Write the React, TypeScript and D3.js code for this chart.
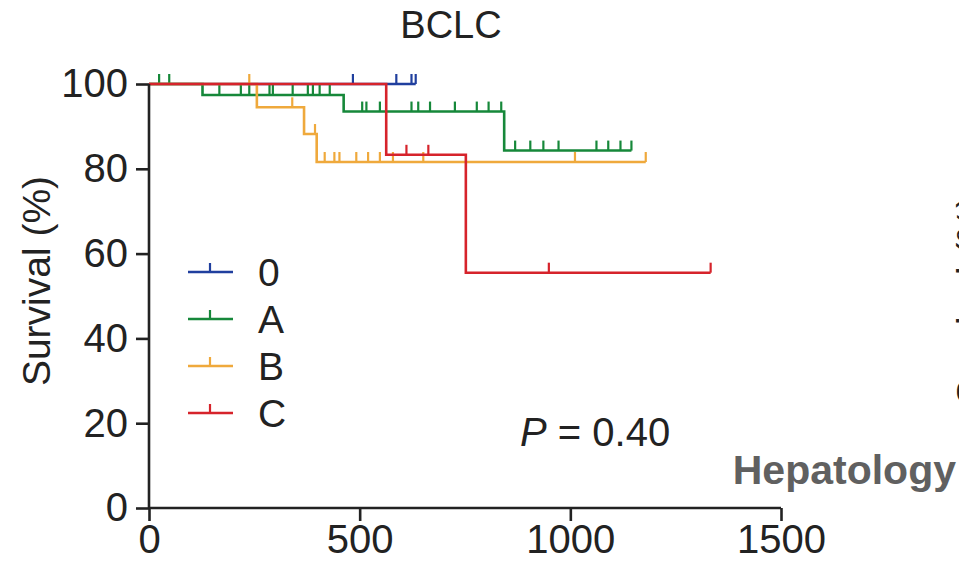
import React, { useEffect, useRef } from 'react';
import * as d3 from 'd3';

// groups (BCLC stage)
const groups = ['0', 'A', 'B', 'C'];
const colors = ['#203f9e', '#16883a', '#efa93c', '#d6232b'];

// days at which survival steps down, and survival (%) after each step
const dropDays0: number[] = [];
const dropSurv0: number[] = [];
const dropDaysA = [127, 462, 843];
const dropSurvA = [97.4, 93.5, 84.3];
const dropDaysB = [256, 368, 398];
const dropSurvB = [94.5, 88.2, 81.6];
const dropDaysC = [563, 752];
const dropSurvC = [83.3, 55.5];

// censored patients (days)
const censor0 = [484, 587, 623, 633];
const censorA = [24, 48, 167, 218, 238, 286, 294, 341, 377, 389, 405, 429, 506, 516, 548, 623, 639, 667, 726, 778, 806, 836, 869, 905, 936, 972, 1062, 1090, 1119, 1145];
const censorB = [238, 340, 394, 417, 440, 452, 492, 520, 548, 579, 651, 1011, 1179];
const censorC = [611, 663, 949, 1333];

// last follow-up per group
const lastDay = [633, 1145, 1179, 1333];

const xTicks = [0, 500, 1000, 1500];
const yTicks = [0, 20, 40, 60, 80, 100];

const FONT = '"Liberation Sans", Arial, Helvetica, sans-serif';

const App = () => {
  const ref = useRef<SVGSVGElement>(null);

  useEffect(() => {
    const svg = d3.select(ref.current);
    svg.selectAll('*').remove();

    const x = d3.scaleLinear().domain([0, 1500]).range([149, 781]);
    const y = d3.scaleLinear().domain([0, 100]).range([508, 84]);

    const drops = [dropDays0, dropDaysA, dropDaysB, dropDaysC];
    const survs = [dropSurv0, dropSurvA, dropSurvB, dropSurvC];
    const censors = [censor0, censorA, censorB, censorC];

    const survAt = (g: number, t: number) => {
      let s = 100;
      drops[g].forEach((d, i) => {
        if (d <= t) s = survs[g][i];
      });
      return s;
    };

    const line = d3
      .line<[number, number]>()
      .x((d) => x(d[0]))
      .y((d) => y(d[1]))
      .curve(d3.curveStepAfter);

    // curves
    groups.forEach((g, gi) => {
      const pts: [number, number][] = [[0, 100]];
      drops[gi].forEach((d, i) => pts.push([d, survs[gi][i]]));
      pts.push([lastDay[gi], survAt(gi, lastDay[gi])]);
      svg
        .append('path')
        .datum(pts)
        .attr('d', line)
        .attr('fill', 'none')
        .attr('stroke', colors[gi])
        .attr('stroke-width', 2.6);

      svg
        .append('g')
        .selectAll('line')
        .data(censors[gi])
        .join('line')
        .attr('x1', (d) => x(d))
        .attr('x2', (d) => x(d))
        .attr('y1', (d) => y(survAt(gi, d)))
        .attr('y2', (d) => y(survAt(gi, d)) - 10)
        .attr('stroke', colors[gi])
        .attr('stroke-width', 2.2);
    });

    // axes
    const axisColor = '#222';
    const xAxis = svg
      .append('g')
      .attr('transform', `translate(0,${y(0)})`)
      .call(
        d3.axisBottom(x).tickValues(xTicks).tickFormat(d3.format('d')).tickSize(13).tickPadding(4)
      );
    const yAxis = svg
      .append('g')
      .attr('transform', `translate(${x(0)},0)`)
      .call(d3.axisLeft(y).tickValues(yTicks).tickSize(13).tickPadding(8));
    [xAxis, yAxis].forEach((a) => {
      a.select('.domain').attr('stroke', axisColor).attr('stroke-width', 2.6);
      a.selectAll('.tick line').attr('stroke', axisColor).attr('stroke-width', 2.6);
      a.selectAll('.tick text')
        .attr('fill', axisColor)
        .style('font-family', FONT)
        .style('font-size', '40px');
    });
    yAxis.select('.domain').attr('d', `M0,${y(0)}V${y(100)}`);
    xAxis.select('.domain').attr('d', `M${x(0)},0H${x(1500)}`);

    // axis title
    svg
      .append('text')
      .attr('transform', `translate(50,281) rotate(-90)`)
      .attr('text-anchor', 'middle')
      .attr('fill', axisColor)
      .style('font-family', FONT)
      .style('font-size', '39px')
      .text('Survival (%)');

    // chart title
    svg
      .append('text')
      .attr('x', 451)
      .attr('y', 38)
      .attr('text-anchor', 'middle')
      .attr('fill', axisColor)
      .style('font-family', FONT)
      .style('font-size', '38px')
      .text('BCLC');

    // legend
    groups.forEach((g, gi) => {
      const ly = 272 + gi * 47;
      const lg = svg.append('g');
      lg.append('line')
        .attr('x1', 188)
        .attr('x2', 233)
        .attr('y1', ly)
        .attr('y2', ly)
        .attr('stroke', colors[gi])
        .attr('stroke-width', 2.6);
      lg.append('line')
        .attr('x1', 210)
        .attr('x2', 210)
        .attr('y1', ly)
        .attr('y2', ly - 9)
        .attr('stroke', colors[gi])
        .attr('stroke-width', 2.2);
      lg.append('text')
        .attr('x', 258)
        .attr('y', ly + 14)
        .attr('fill', axisColor)
        .style('font-family', FONT)
        .style('font-size', '39px')
        .text(g);
    });

    // p value
    const p = svg
      .append('text')
      .attr('x', 520)
      .attr('y', 446)
      .attr('fill', axisColor)
      .style('font-family', FONT)
      .style('font-size', '40px');
    p.append('tspan').style('font-style', 'italic').text('P');
    p.append('tspan').text(' = 0.40');

    // journal watermark
    svg
      .append('text')
      .attr('x', 956)
      .attr('y', 484)
      .attr('text-anchor', 'end')
      .attr('fill', '#606060')
      .style('font-family', FONT)
      .style('font-size', '41px')
      .style('font-weight', 'bold')
      .text('Hepatology');

    // neighbouring panel's axis title, cut by the edge
    svg
      .append('text')
      .attr('transform', `translate(984,300) rotate(-90)`)
      .attr('text-anchor', 'middle')
      .attr('fill', axisColor)
      .style('font-family', FONT)
      .style('font-size', '39px')
      .text('Survival (%)');
  }, []);

  return (
    <svg
      ref={ref}
      width={959}
      height={562}
      style={{ position: 'absolute', left: 0, top: 0, background: '#fff' }}
    />
  );
};

export default App;
